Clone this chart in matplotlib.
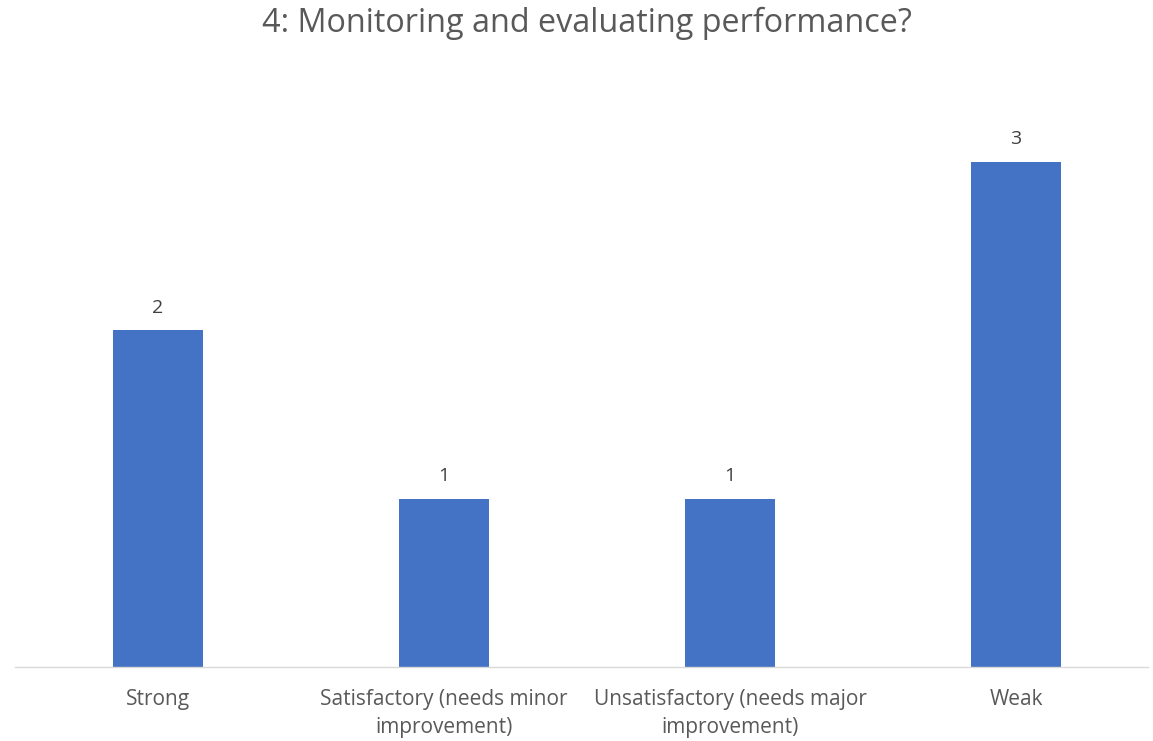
import matplotlib.pyplot as plt

plt.rcParams['font.family'] = ['Open Sans', 'DejaVu Sans']

categories = ["Strong", "Satisfactory (needs minor\nimprovement)",
              "Unsatisfactory (needs major\nimprovement)", "Weak"]
counts = [2, 1, 1, 3]
title = "4: Monitoring and evaluating performance?"

W, H = 1153, 741
fig = plt.figure(figsize=(W / 100, H / 100), dpi=100)
# axes placed in pixel terms: baseline at y=667, 168.5 px per unit
ax = fig.add_axes([15 / W, (H - 667) / H, 1133 / W, (3.5 * 168.5) / H])

x = range(len(categories))
bars = ax.bar(x, counts, width=0.315 * 1144 / 1133, color="#4472C4")
for b, v in zip(bars, counts):
    ax.text(b.get_x() + b.get_width() / 2, v + 0.08, str(v),
            ha="center", va="bottom", fontsize=14, color="#404040")

ax.set_xlim(-0.5, 3.5 - 11 / 286)
ax.set_ylim(0, 3.5)
ax.set_xticks(list(x))
ax.set_xticklabels(categories, fontsize=15, color="#595959", linespacing=1.4)
ax.tick_params(axis="x", length=0, pad=16)
ax.set_yticks([])
for s in ["top", "right", "left"]:
    ax.spines[s].set_visible(False)
ax.spines["bottom"].set_color("#D9D9D9")
ax.spines["bottom"].set_linewidth(1)

fig.text(587 / W, 1 - 23 / H, title, ha="center", va="center",
         fontsize=23.3, color="#595959")

fig.savefig("out.png", dpi=100)
